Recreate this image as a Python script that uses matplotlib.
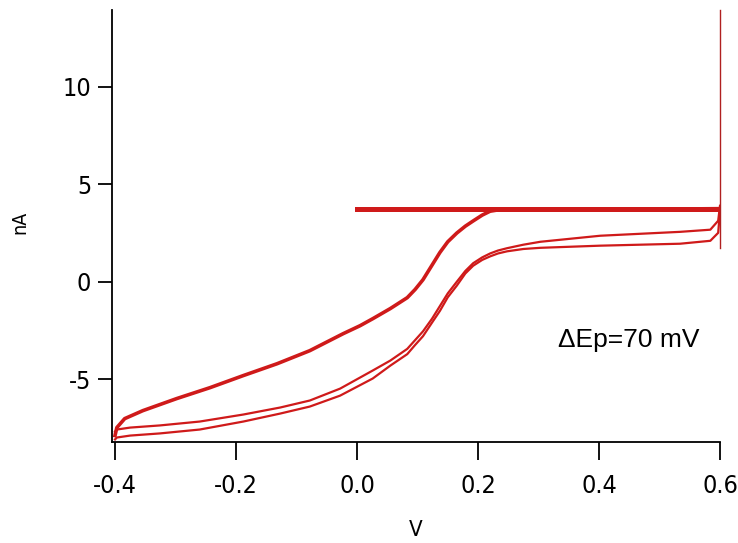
#!/usr/bin/env python3
# Cyclic voltammogram, nA vs V
import matplotlib
matplotlib.use('Agg')
import matplotlib.pyplot as plt

# ============= Data
# upper branch (scan towards positive potential)
upperV = [-0.400, -0.397, -0.384, -0.354, -0.298, -0.243, -0.188, -0.132,
          -0.078, -0.023, 0.005, 0.026, 0.055, 0.083, 0.096, 0.109, 0.124,
          0.137, 0.150, 0.165, 0.179, 0.192, 0.207, 0.220, 0.240, 0.400,
          0.600]
upperI = [-7.9, -7.49, -7.03, -6.62, -6.00, -5.44, -4.82, -4.21,
          -3.54, -2.67, -2.26, -1.90, -1.38, -0.82, -0.40, 0.10, 0.85,
          1.50, 2.05, 2.50, 2.85, 3.12, 3.42, 3.62, 3.72, 3.70,
          3.75]

# lower branches (two cycles)
lowerV = [-0.400, -0.397, -0.375, -0.326, -0.260, -0.188, -0.127, -0.078,
          -0.028, 0.026, 0.055, 0.083, 0.096, 0.109, 0.124, 0.137, 0.150,
          0.165, 0.179, 0.192, 0.207, 0.220, 0.233, 0.248, 0.275, 0.303,
          0.402, 0.534, 0.584, 0.597, 0.600]
lowerA = [-7.7, -7.59, -7.49, -7.38, -7.18, -6.82, -6.46, -6.10,
          -5.49, -4.56, -4.05, -3.45, -3.00, -2.55, -1.90, -1.25, -0.60,
          0.00, 0.55, 0.95, 1.25, 1.45, 1.60, 1.72, 1.90, 2.05,
          2.36, 2.56, 2.67, 3.13, 3.90]
lowerB = [-8.1, -8.00, -7.90, -7.79, -7.59, -7.18, -6.77, -6.41,
          -5.85, -4.97, -4.31, -3.72, -3.25, -2.80, -2.10, -1.50, -0.80,
          -0.20, 0.42, 0.82, 1.12, 1.30, 1.45, 1.56, 1.68, 1.74,
          1.85, 1.95, 2.10, 2.51, 3.64]

# flat trace and spike
flatV = [0.0, 0.6]
flatI = [3.72, 3.72]
spikeV = [0.6, 0.6]
spikeI = [1.74, 13.95]

xTicks = [-0.4, -0.2, 0.0, 0.2, 0.4, 0.6]
yTicks = [-5, 0, 5, 10]

# ============= Plot
narrow = ['Liberation Sans Narrow', 'DejaVu Sans']
red = '#cf1a1a'
tickFont = dict(family=narrow, fontstretch='condensed', fontsize=18)

fig = plt.figure(figsize=(7.38, 5.43), dpi=100)
ax = fig.add_axes([112 / 738, 101 / 543, 608 / 738, 432 / 543])

ax.plot(lowerV, lowerA, color=red, lw=1.6, solid_joinstyle='round')
ax.plot(lowerV, lowerB, color=red, lw=1.6, solid_joinstyle='round')
ax.plot(upperV, upperI, color=red, lw=2.6, solid_joinstyle='round')
ax.plot(flatV, flatI, color=red, lw=3.6)
ax.plot(spikeV, spikeI, color='#b02020', lw=1.0, clip_on=False)

ax.set_xlim(-0.405, 0.6)
ax.set_ylim(-8.23, 13.95)
ax.spines['top'].set_visible(False)
ax.spines['right'].set_visible(False)
ax.spines['left'].set_linewidth(1.3)
ax.spines['bottom'].set_linewidth(1.3)

ax.set_xticks(xTicks)
ax.set_xticklabels(['%.1f' % v for v in xTicks], **tickFont)
ax.set_yticks(yTicks)
ax.set_yticklabels([str(v) for v in yTicks], **tickFont)
ax.tick_params(axis='x', direction='out', length=13, width=1.3, pad=10)
ax.tick_params(axis='y', direction='out', length=10, width=1.3, pad=5)

fig.text(20 / 738, 1 - 222 / 543, 'nA', rotation=90, ha='center', va='center',
         family=narrow, fontstretch='condensed', fontsize=14)
fig.text(416 / 738, 1 - 530 / 543, 'V', ha='center', va='center',
         family=narrow, fontstretch='condensed', fontsize=16)
fig.text(558 / 738, 1 - 347 / 543, '\u0394Ep=70 mV', ha='left', va='baseline',
         family='Liberation Sans', fontsize=19)

fig.savefig('out.png', dpi=100)
